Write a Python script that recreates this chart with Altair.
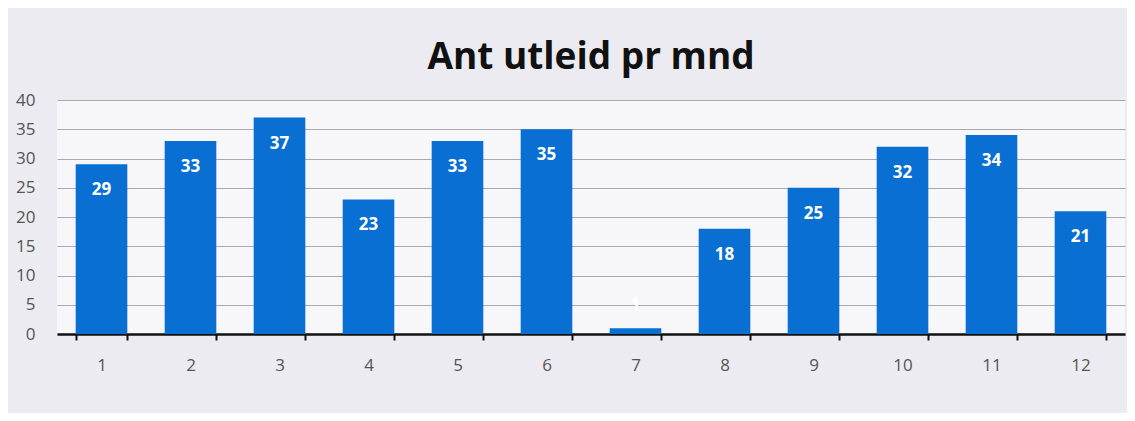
import altair as alt
import pandas as pd

months = ["1", "2", "3", "4", "5", "6", "7", "8", "9", "10", "11", "12"]
values = [29, 33, 37, 23, 33, 35, 1, 18, 25, 32, 34, 21]
y_ticks = [0, 5, 10, 15, 20, 25, 30, 35, 40]

df = pd.DataFrame({"mnd": months, "antall": values})

base = alt.Chart(df).encode(
    x=alt.X("mnd:N", sort=months, title=None,
            scale=alt.Scale(paddingInner=0.42, paddingOuter=0.21),
            axis=alt.Axis(labelAngle=0, labelFont="Open Sans", labelFontSize=17,
                          labelColor="#555555", labelPadding=17, tickBand="extent",
                          tickColor="#111111", tickSize=6, tickWidth=2,
                          domainColor="#111111", domainWidth=2.5, grid=False)),
)

y_axis = alt.Axis(values=y_ticks, labelFont="Open Sans", labelFontSize=17,
                  labelColor="#555555", labelPadding=22, ticks=False,
                  domain=False, gridColor="#a8a8b0", gridWidth=1)

bars = base.mark_bar(color="#0a6fd2").encode(
    y=alt.Y("antall:Q", title=None,
            scale=alt.Scale(domain=[0, 40], nice=False), axis=y_axis),
)

# small bars get their label lifted above the bar (as in the original, where it is white and hidden)
labels = base.transform_calculate(
    lab_y="datum.antall < 9 ? 9.4 : datum.antall"
).mark_text(color="white", font="Open Sans", fontWeight="bold",
            fontSize=17, baseline="middle", dy=26).encode(
    y=alt.Y("lab_y:Q", title=None, axis=None,
            scale=alt.Scale(domain=[0, 40], nice=False)),
    text="antall:Q")

chart = (bars + labels).resolve_axis(y="independent").properties(
    width=1068, height=234,
    title=alt.TitleParams("Ant utleid pr mnd", font="Open Sans", fontSize=37,
                          fontWeight="bold", color="#111111", offset=14,
                          anchor="middle"),
    autosize=alt.AutoSizeParams(type="none"),
    padding={"left": 49, "top": 92, "right": 2, "bottom": 79},
    background="#ebebf1",
).configure_view(fill="#f7f7f9", stroke=None)

chart.save("out.html", embed_options={"renderer": "svg", "actions": False})
